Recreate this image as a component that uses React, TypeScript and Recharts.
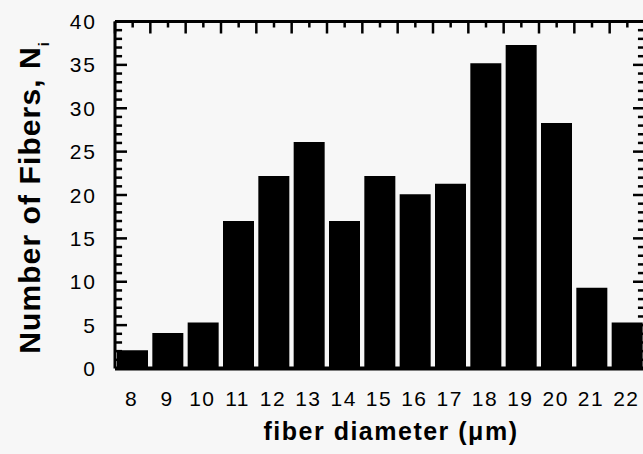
import React from 'react';
import { ComposedChart, Bar, Line, XAxis, YAxis, ReferenceLine } from 'recharts';

const categories = ['8', '9', '10', '11', '12', '13', '14', '15', '16', '17', '18', '19', '20', '21', '22'];
const counts = [2.1, 4.1, 5.3, 17, 22.2, 26.1, 17, 22.2, 20.1, 21.3, 35.2, 37.3, 28.3, 9.3, 5.3];
const yMajorTicks = [0, 5, 10, 15, 20, 25, 30, 35, 40];
const yMinorTicks = [1, 2, 3, 4, 6, 7, 8, 9, 11, 12, 13, 14, 16, 17, 18, 19, 21, 22, 23, 24, 26, 27, 28, 29, 31, 32, 33, 34, 36, 37, 38, 39];
const yMax = 40;
const nBands = 15;
const minorLen = 0.2; // minor tick length in band units of the top axis
const topTicks = Array.from({ length: 31 }, (_, i) => i / 2);

const data = categories.map((d, i) => ({ d, pos: i + 0.5, n: counts[i] }));

const FONT = '"Liberation Sans", Arial, Helvetica, sans-serif';

const LeftTick = (props: any) => {
  const { x, y, payload } = props;
  const v = Number(payload.value);
  return (
    <g>
      <line x1={x} x2={x + 12} y1={y} y2={y} stroke="#000" strokeWidth={2.5} />
      <text x={x - 18} y={y} dy="0.36em" textAnchor="end" fontSize={21} letterSpacing={2} fill="#000" fontFamily={FONT}>
        {v}
      </text>
    </g>
  );
};

const RightTick = (props: any) => {
  const { x, y } = props;
  return <line x1={x} x2={x - 12} y1={y} y2={y} stroke="#000" strokeWidth={2.5} />;
};

const TopTick = (props: any) => {
  const { x, y, payload } = props;
  const major = Number.isInteger(Number(payload.value));
  return <line x1={x} x2={x} y1={y} y2={y + (major ? 12 : 6)} stroke="#000" strokeWidth={2.5} />;
};

const BottomTick = (props: any) => {
  const { x, y, payload } = props;
  return (
    <text x={x - 1} y={y + 30} dy="0.36em" textAnchor="middle" fontSize={21} letterSpacing={1.5} fill="#000" fontFamily={FONT}>
      {payload.value}
    </text>
  );
};

const YLabel = () => (
  <text
    x={32}
    y={189.5}
    transform="rotate(-90, 32, 189.5)"
    textAnchor="middle"
    fontSize={30}
    fontWeight="bold"
    letterSpacing={1.1}
    fill="#000"
    fontFamily={FONT}
  >
    Number of Fibers, N
    <tspan dy={8.5} fontSize={14}>i</tspan>
  </text>
);

const XLabel = () => (
  <text x={383} y={432} textAnchor="middle" fontSize={25} fontWeight="bold" letterSpacing={1.5} fill="#000" fontFamily={FONT}>
    fiber diameter (μm)
  </text>
);

export default function App() {
  return (
    <div
      style={{
        width: 643,
        height: 454,
        padding: '8px 0 0 8px',
        boxSizing: 'border-box',
        overflow: 'hidden',
        background: '#f7f7f7',
      }}
    >
      <style>{`html,body{margin:0;padding:0;background:#f7f7f7;overflow:hidden}`}</style>
      <ComposedChart
        width={650}
        height={446}
        data={data}
        margin={{ top: 13.5, right: 13, bottom: 25.5, left: 0 }}
        barCategoryGap={2}
      >
        <XAxis
          dataKey="d"
          interval={0}
          tickLine={false}
          tickSize={0}
          tickMargin={0}
          height={60}
          axisLine={{ stroke: '#000', strokeWidth: 4 }}
          tick={<BottomTick />}
          label={<XLabel />}
        />
        <XAxis
          xAxisId="top"
          dataKey="pos"
          orientation="top"
          type="number"
          domain={[0, nBands]}
          allowDataOverflow
          ticks={topTicks}
          interval={0}
          minTickGap={0}
          height={1}
          mirror
          tickLine={false}
          tickSize={0}
          tickMargin={0}
          axisLine={{ stroke: '#000', strokeWidth: 3 }}
          tick={<TopTick />}
        />
        <YAxis
          yAxisId="left"
          domain={[0, yMax]}
          allowDataOverflow
          ticks={yMajorTicks}
          interval={0}
          minTickGap={0}
          width={107}
          tickLine={false}
          tickSize={0}
          tickMargin={0}
          axisLine={{ stroke: '#000', strokeWidth: 3 }}
          tick={<LeftTick />}
          label={<YLabel />}
        />
        <YAxis
          yAxisId="right"
          orientation="right"
          domain={[0, yMax]}
          allowDataOverflow
          ticks={yMajorTicks}
          interval={0}
          minTickGap={0}
          width={1}
          mirror
          tickLine={false}
          tickSize={0}
          tickMargin={0}
          axisLine={{ stroke: '#000', strokeWidth: 3 }}
          tick={<RightTick />}
        />
        <Bar dataKey="n" yAxisId="left" fill="#000" isAnimationActive={false} />
        <Line
          dataKey="n"
          xAxisId="top"
          yAxisId="right"
          stroke="none"
          dot={false}
          activeDot={false}
          legendType="none"
          isAnimationActive={false}
        />
        {yMinorTicks.map((v) => (
          <ReferenceLine
            key={`l${v}`}
            xAxisId="top"
            yAxisId="left"
            segment={[{ x: 0, y: v }, { x: minorLen, y: v }]}
            stroke="#000"
            strokeWidth={2.5}
            ifOverflow="visible"
          />
        ))}
        {yMinorTicks.map((v) => (
          <ReferenceLine
            key={`r${v}`}
            xAxisId="top"
            yAxisId="left"
            segment={[{ x: nBands - minorLen, y: v }, { x: nBands, y: v }]}
            stroke="#000"
            strokeWidth={2.5}
            ifOverflow="visible"
          />
        ))}
      </ComposedChart>
    </div>
  );
}
